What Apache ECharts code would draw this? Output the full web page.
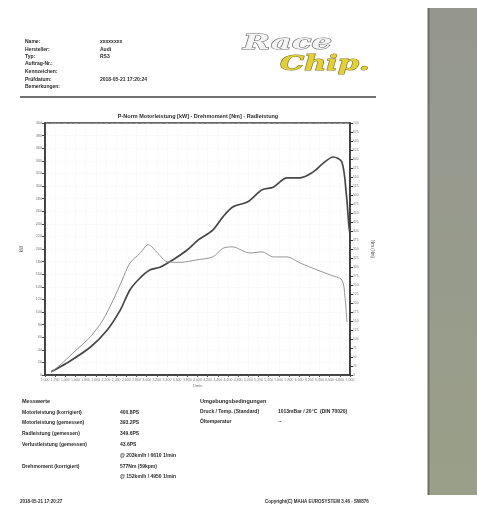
<!DOCTYPE html>
<html><head><meta charset="utf-8">
<script src="https://cdn.jsdelivr.net/npm/echarts@6/dist/echarts.min.js"></script>
<style>html,body{margin:0;padding:0;background:#fff}#c{width:477px;height:518px}</style>
</head><body><div id="c"></div><script>
// ---- data ----
const powerRpm    = [1120,1430,1890,2220,2480,2670,2870,3070,3260,3520,3790,4010,4300,4500,4700,4990,5270,5490,5760,6020,6270,6470,6670,6840,6930,6975,6995];
const powerValues = [5,19,44,71,103,135,154,167,171,183,198,214,230,251,267,275,294,298,313,313,322,336,346,338,285,240,226];
const torqueRpm    = [1120,1300,1550,1890,2140,2340,2520,2670,2870,3030,3220,3400,3660,3990,4300,4500,4680,5030,5270,5490,5760,6020,6350,6610,6840,6900,6940];
const torqueValues = [8,28,61,106,153,208,264,311,338,362,338,315,313,320,328,352,356,339,342,328,328,311,292,278,264,217,147];
const chartTitle = "P-Norm Motorleistung [kW] - Drehmoment [Nm] - Radleistung";
const leftAxisName = "kW";
const rightAxisName = "Nm (Nm)";
const xAxisName = "1/min";
const headerLabels = ["Name:","Hersteller:","Typ:","Auftrag-Nr.:","Kennzeichen:","Prüfdatum:","Bemerkungen:"];
const headerValues = ["xxxxxxxx","Audi","RS3","","","2018-05-21 17:20:24",""];
const measureTitle = "Messwerte";
const measureLabels = ["Motorleistung (korrigiert)","Motorleistung (gemessen)","Radleistung (gemessen)","Verlustleistung (gemessen)","","Drehmoment (korrigiert)",""];
const measureValues = ["400.8PS","393.2PS","349.6PS","43.6PS","@ 203km/h / 6610 1/min","577Nm (59kpm)","@ 152km/h / 4950 1/min"];
const ambientTitle = "Umgebungsbedingungen";
const ambientLabels = ["Druck / Temp. (Standard)","Öltemperatur"];
const ambientValues = ["1013mBar / 20°C  (DIN 70020)","--"];
const footerLeft = "2018-05-21 17:20:27";
const footerRight = "Copyright(C) MAHA EUROSYSTEM 3.46 - SW876";

// ---- layout ----
const F = '"Liberation Sans", Arial, sans-serif';
const TXT = '#2a2a2a';
function txt(x, y, s, size, bold, extra) {
  return Object.assign({type:'text', x:x, y:y, silent:true,
    style:{text:s, fontSize:size, fontFamily:F, fontWeight:bold?'bold':'normal', fill:TXT, align:'left', verticalAlign:'middle'}}, extra||{});
}
const headerY = [42,50,57,64,72,80,87];
const measY = [413,423,434,445,456,467,477];
const graphic = [];
// grey photo edge on the right
graphic.push({type:'rect', silent:true, shape:{x:428,y:8,width:49,height:487},
  style:{fill:{type:'linear',x:0,y:0,x2:0,y2:1,colorStops:[{offset:0,color:'#95978f'},{offset:1,color:'#9a9f89'}]}}});
graphic.push({type:'line', silent:true, shape:{x1:428.5,y1:8,x2:428.5,y2:495}, style:{stroke:'#6d6f69', lineWidth:2}});
// header
headerLabels.forEach((s,i)=>graphic.push(txt(25, headerY[i], s, 5, true)));
headerValues.forEach((s,i)=>{ if(s) graphic.push(txt(100, headerY[i], s, 5, true)); });
graphic.push({type:'line', silent:true, shape:{x1:20,y1:97,x2:376,y2:97}, style:{stroke:'#444', lineWidth:1.5}});
// logo
graphic.push({type:'text', x:243, y:44, scaleX:1.62, silent:true,
  style:{text:'Race', fontSize:20, fontFamily:'"DejaVu Serif", serif', fontStyle:'italic', fontWeight:'bold',
  fill:'#f4f4f4', stroke:'#6a6a6a', lineWidth:1, align:'left', verticalAlign:'middle'}});
graphic.push({type:'text', x:280, y:65, scaleX:1.52, silent:true,
  style:{text:'Chip.', fontSize:20, fontFamily:'"DejaVu Serif", serif', fontStyle:'italic', fontWeight:'bold',
  fill:'#e2cf3c', stroke:'#857a22', lineWidth:1, align:'left', verticalAlign:'middle'}});
// chart title
graphic.push(txt(198, 116, chartTitle, 5.5, true, {style:{text:chartTitle, fontSize:5.5, fontFamily:F, fontWeight:'bold', fill:TXT, align:'center', verticalAlign:'middle'}}));
// measurement block
graphic.push(txt(22, 401, measureTitle, 5.5, true));
measureLabels.forEach((s,i)=>{ if(s) graphic.push(txt(22, measY[i], s, 5, true)); });
measureValues.forEach((s,i)=>graphic.push(txt(120, measY[i], s, 5, true)));
graphic.push(txt(200, 401, ambientTitle, 5.5, true));
ambientLabels.forEach((s,i)=>graphic.push(txt(200, measY[i]-1, s, 5, true)));
ambientValues.forEach((s,i)=>graphic.push(txt(278, measY[i]-1, s, 5, true)));
// footer
graphic.push(txt(20, 502, footerLeft, 4.5, true));
graphic.push(txt(265, 502, footerRight, 4.5, true));

const chart = echarts.init(document.getElementById('c'), null, {renderer:'canvas'});
chart.setOption({
  animation:false,
  backgroundColor:'#fff',
  grid:{left:45, top:123, width:305, height:252, show:true, borderColor:'#333', borderWidth:1.5, backgroundColor:'transparent'},
  xAxis:{type:'value', min:1000, max:7000, interval:200,
    name:xAxisName, nameLocation:'middle', nameGap:9, nameTextStyle:{fontSize:4, color:'#666', fontFamily:F},
    axisLine:{lineStyle:{color:'#333', width:1.5}}, axisTick:{show:true, length:2, lineStyle:{color:'#555'}},
    axisLabel:{fontSize:3.5, color:'#777', margin:3, fontFamily:F},
    splitLine:{show:true, lineStyle:{color:'#eeeeee', type:'dotted', width:0.6}}},
  yAxis:[
    {type:'value', min:0, max:400, interval:20, position:'left',
     name:leftAxisName, nameLocation:'middle', nameRotate:90, nameGap:12, nameTextStyle:{fontSize:4.5, color:'#555', fontFamily:F},
     axisLine:{show:true, lineStyle:{color:'#333', width:1.5}}, axisTick:{show:true, length:3, lineStyle:{color:'#444'}},
     axisLabel:{fontSize:3.8, color:'#777', margin:3, fontFamily:F},
     splitLine:{show:true, lineStyle:{color:'#eeeeee', type:'dotted', width:0.6}}},
    {type:'value', min:0, max:700, interval:25, position:'right',
     name:rightAxisName, nameLocation:'middle', nameRotate:-90, nameGap:13, nameTextStyle:{fontSize:4.5, color:'#555', fontFamily:F},
     axisLine:{show:true, lineStyle:{color:'#333', width:1.5}}, axisTick:{show:true, length:3, lineStyle:{color:'#333'}},
     axisLabel:{fontSize:3.3, color:'#777', margin:3, fontFamily:F},
     splitLine:{show:false}}
  ],
  series:[
    {name:'Leistung', type:'line', yAxisIndex:0, showSymbol:false, smooth:0.3,
     lineStyle:{color:'#474747', width:1.7}, data:powerRpm.map((r,i)=>[r, powerValues[i]])},
    {name:'Drehmoment', type:'line', yAxisIndex:1, showSymbol:false, smooth:0.3,
     lineStyle:{color:'#959595', width:1}, data:torqueRpm.map((r,i)=>[r, torqueValues[i]])}
  ],
  graphic:graphic
});
</script></body></html>
